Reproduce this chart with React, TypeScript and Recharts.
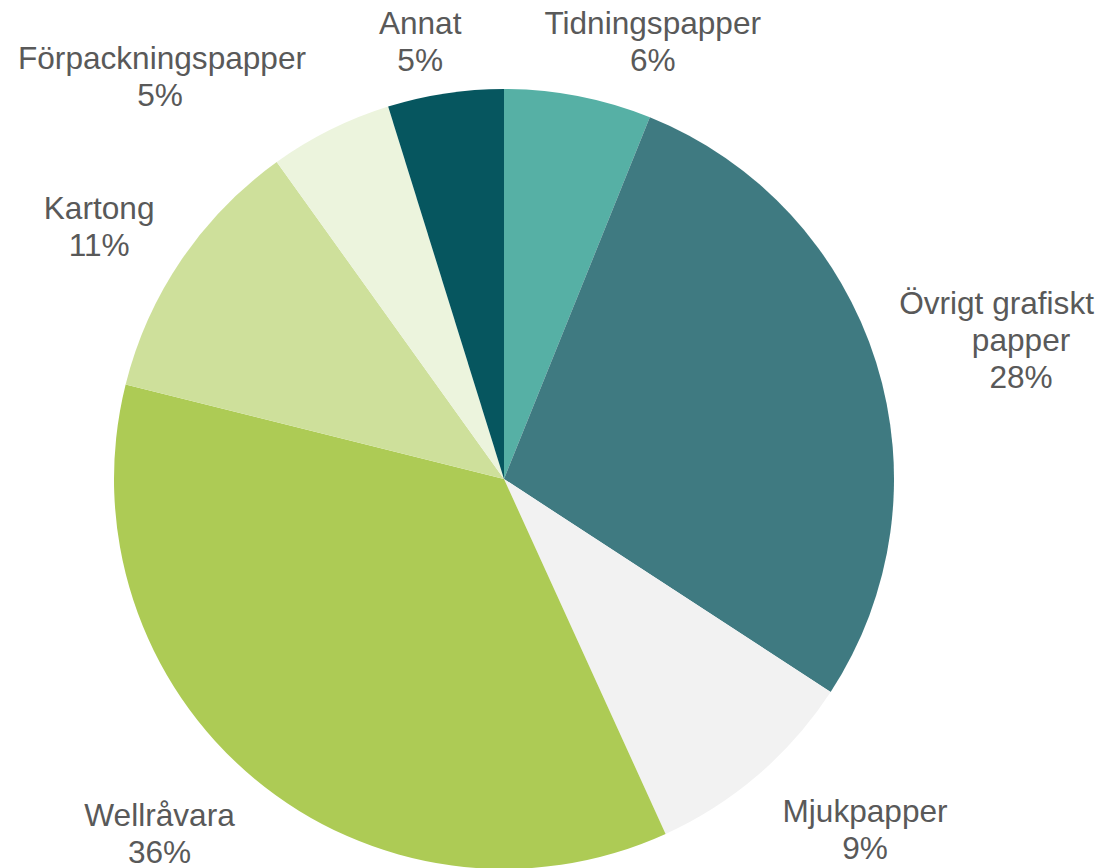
import React from "react";
import { PieChart, Pie, Cell } from "recharts";

const categories = [
  "Tidningspapper",
  "Övrigt grafiskt\npapper",
  "Mjukpapper",
  "Wellråvara",
  "Kartong",
  "Förpackningspapper",
  "Annat",
];
const shares = [6.1, 28.1, 9.0, 35.7, 11.2, 5.1, 4.8];
const colors = ["#56B0A5", "#3F7A81", "#F2F2F2", "#ADCB55", "#CEE09B", "#ECF4DD", "#06565F"];

// label layout tweaks (dx, dy) applied after the outside-end placement
const labelNudge: Record<number, [number, number]> = {
  0: [50, 1],
  1: [33, 0],
  2: [40, 11],
  3: [-34, 10],
  4: [-20, -2],
  5: [-97, -3],
  6: [-16, 4],
};

const W = 1112;
const H = 868;
const FONT_SIZE = 31.6;
const LINE_H = 37;
const FONT = "'Liberation Sans', Arial, sans-serif";
const RADIAN = Math.PI / 180;

let ctx: CanvasRenderingContext2D | null = null;
function measure(t: string): number {
  if (!ctx) {
    const c = document.createElement("canvas");
    ctx = c.getContext("2d");
  }
  if (!ctx) return t.length * FONT_SIZE * 0.5;
  ctx.font = `${FONT_SIZE}px 'Liberation Sans', Arial, sans-serif`;
  return ctx.measureText(t).width;
}

const data = categories.map((c, i) => ({ name: c, value: shares[i] }));

function renderLabel(props: any) {
  const { cx, cy, midAngle, outerRadius, percent, index } = props;
  const lines = [...String(categories[index]).split("\n"), `${Math.round(percent * 100)}%`];
  const widths = lines.map(measure);
  const w = Math.max(...widths);
  const h = lines.length * LINE_H;
  const dx = Math.cos(-midAngle * RADIAN);
  const dy = Math.sin(-midAngle * RADIAN);
  const r = outerRadius + 20;
  const ex = cx + r * dx;
  const ey = cy + r * dy;
  const [nx, ny] = labelNudge[index] || [0, 0];
  const bx = ex + (dx * w) / 2 + nx;
  const by = ey + (dy * h) / 2 + ny;
  const firstBase = by - ((lines.length - 1) * LINE_H) / 2 + 11.7;
  const margin = 18;
  return (
    <text
      key={`lbl-${index}`}
      textAnchor="middle"
      fill="#595959"
      fontSize={FONT_SIZE}
      fontFamily={FONT}
    >
      {lines.map((ln, i) => {
        const half = widths[i] / 2;
        const x = Math.min(Math.max(bx, margin + half), W - margin - half);
        return (
          <tspan key={i} x={x} y={firstBase + i * LINE_H}>
            {ln}
          </tspan>
        );
      })}
    </text>
  );
}

export default function App() {
  return (
    <div style={{ position: "absolute", left: 0, top: 0, width: W, height: H, background: "#fff" }}>
      <PieChart width={W} height={H} margin={{ top: 0, right: 0, bottom: 0, left: 0 }}>
        <Pie
          data={data}
          dataKey="value"
          nameKey="name"
          cx={504}
          cy={479}
          outerRadius={390}
          startAngle={90}
          endAngle={-270}
          stroke="none"
          labelLine={false}
          label={renderLabel}
          isAnimationActive={false}
        >
          {data.map((d, i) => (
            <Cell key={d.name} fill={colors[i]} />
          ))}
        </Pie>
      </PieChart>
    </div>
  );
}
